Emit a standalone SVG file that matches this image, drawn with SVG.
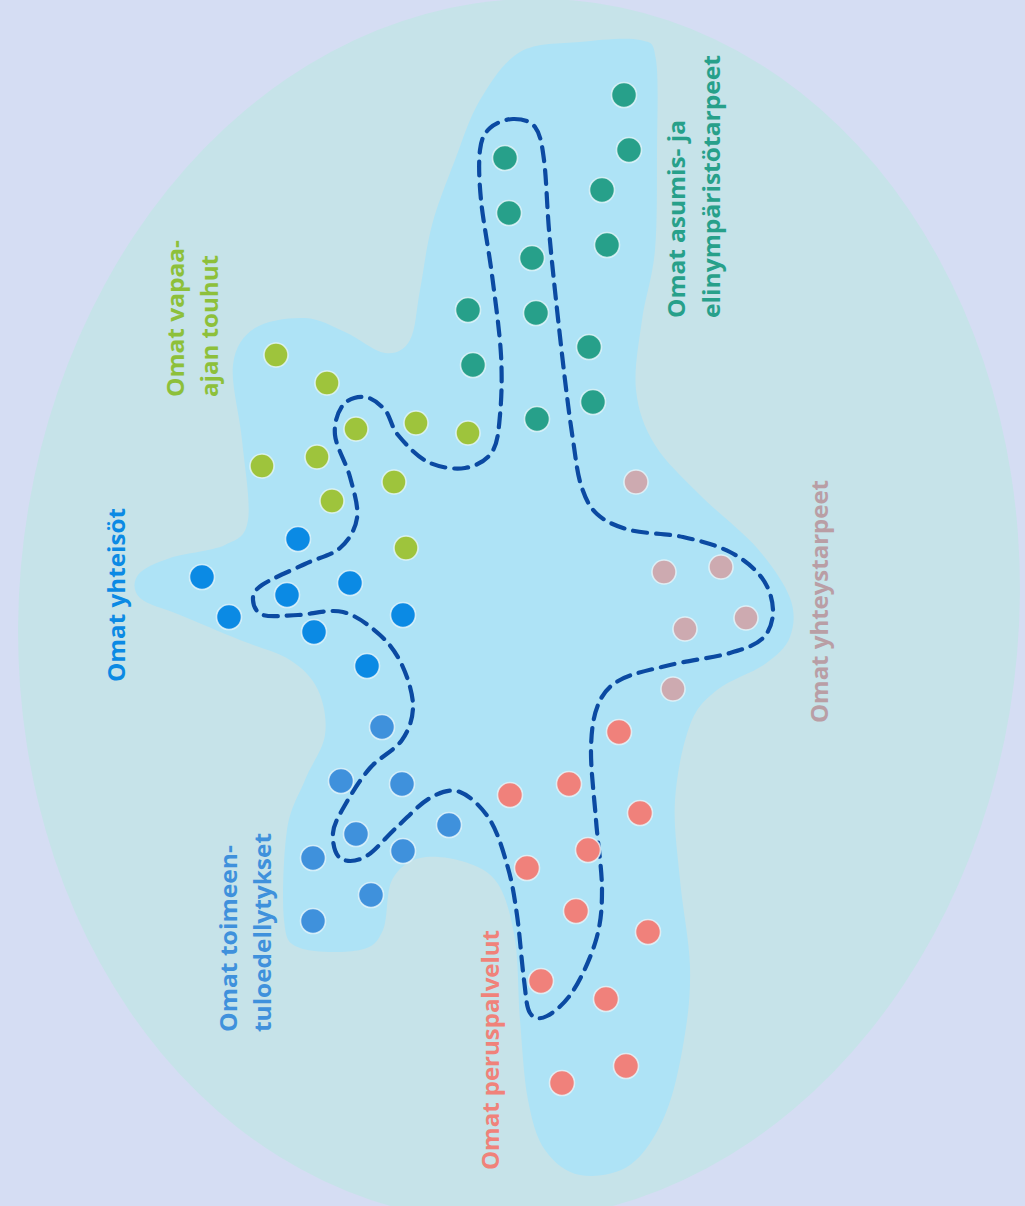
<svg xmlns="http://www.w3.org/2000/svg" width="1025" height="1206" viewBox="0 0 1025 1206">
<style>
.lbl{font-family:"Open Sans","Liberation Sans",sans-serif;font-size:24px;font-weight:700}
.dot{stroke:#e6f6fb;stroke-width:1.6;stroke-opacity:0.8}
.teal{fill:#27a08a}.green{fill:#9ec43c}.blue{fill:#0b8ae4}.mid{fill:#3f91dc}.red{fill:#f0817b}.pink{fill:#cdaab0}
</style>
<rect id="background" x="0" y="0" width="1025" height="1206" fill="#d5ddf3"/>
<ellipse id="outer-ellipse" cx="519" cy="610" rx="500" ry="612" transform="rotate(5 519 610)" fill="#c6e3e9"/>
<path id="blob" fill="#aee3f6" d="M520,52 C536.7,42.3 560,44 580,42 S627.3,37 640,40 S653.2,41.7 656,60 S657.2,118.3 657,150 S657.5,221.7 655,250 S645.2,296.7 642,320 S633.8,369.2 636,390 S644.3,427.5 655,445 S683,477.8 700,495 S742,530.8 757,548 S784.5,583.2 790,598 S794.2,626 790,637 S777.2,655.2 765,664 S729.5,679.8 717,690 S697,706.7 690,725 S676.7,774.2 675,800 S677.5,852.2 680,880 S689.3,940.3 690,967 S688.2,1015.3 684,1040 S674,1094.2 665,1115 S644.2,1155 630,1165 S594.2,1177.5 580,1175 S553.7,1162.5 545,1150 S532.2,1121.7 528,1100 S522.2,1046.7 520,1020 S518.7,962.7 515,940 S506.3,897 498,884 S478,866.3 465,862 S432.2,855 420,858 S398.2,868 392,880 S388.3,918.3 383,930 S373.8,947 360,950 S312.7,953 300,948 S286.2,939.7 284,920 S283.5,853.3 287,830 S298.7,795.8 305,780 S322.8,750 325,735 S323.8,702.5 318,690 S303,668.3 290,660 S258.3,647.5 240,640 S196.7,622 180,615 S147,604.7 140,598 S133,581.7 138,575 S155.5,563 170,558 S212,551.3 225,545 S245.2,537.5 248,520 S244.5,465.8 242,440 S230.8,383.7 233,365 S243,335.8 255,328 S290,317.3 305,318 S331.7,326.2 345,332 S374.2,351.7 385,353 S404.2,350.5 410,340 S416.3,309.2 420,290 S426.2,246.7 432,225 S447,180.8 455,160 S469.2,118 480,100 S503.3,61.7 520,52 Z"/>
<g id="connectors">
<path id="dashed-boundary" fill="none" stroke="#0b4aa2" stroke-width="4.2" stroke-dasharray="14 9" stroke-linecap="round" d="M513,119 C520.5,118.8 529.8,120.2 535,127 S541.7,142.8 544,160 S547,206.7 549,230 S553.3,275 556,300 S562.2,356.7 565,380 S570.3,422.5 573,440 S577,472.7 581,485 S588.8,506.5 597,514 S615.7,526.2 630,530 S666.3,533.3 683,537 S716.8,545.2 730,552 S754.8,568.3 762,578 S772.8,600 773,610 S770.2,630.8 763,638 S745.5,648.5 730,653 S688.3,660.5 670,665 S632,673.3 620,680 S602.8,693.3 598,705 S591.3,730.8 591,750 S594.2,796.7 596,820 S602,870 602,890 S600.8,923.2 596,940 S581.2,978.3 573,991 S554.2,1012.3 547,1016 S533.8,1019 530,1013 S526.2,996.3 524,980 S519.7,933.7 517,915 S512.5,883.8 508,868 S498,832.7 490,820 S470,795.7 460,792 S440.5,792.2 430,798 S407.8,817.2 397,827 S374.5,851.8 365,857 S345.3,862 340,858 S332.2,841.8 333,833 S338.8,815.8 345,805 S360.5,778.8 370,768 S394.8,750.3 402,740 S413,718.5 413,706 S407.5,676.8 402,665 S389.8,643.8 380,635 S356.7,615.3 343,612 S311.3,614.5 298,615 S270.5,617.5 263,615 S253.2,605 253,600 S253.3,591 262,585 S292,570.2 305,564 S331.3,555.7 340,548 S355.3,529.8 357,518 S353.7,490.8 350,477 S336.2,447 335,435 S338,411.3 343,405 S358,396.2 365,397 S379.5,403.7 385,410 S390.8,426.3 398,435 S416.8,456.5 428,462 S454.3,469.7 465,468 S486.2,460.8 492,452 S498.5,431.2 500,415 S502.3,378.3 501,355 S495.3,300.8 492,275 S483,220.8 481,200 S478.5,162 480,150 S484.5,133.2 490,128 S505.5,119.2 513,119 Z"/>
</g>
<g id="asumis">
<circle class="dot teal" cx="624" cy="95" r="12.5"/>
<circle class="dot teal" cx="629" cy="150" r="12.5"/>
<circle class="dot teal" cx="602" cy="190" r="12.5"/>
<circle class="dot teal" cx="607" cy="245" r="12.5"/>
<circle class="dot teal" cx="505" cy="158" r="12.5"/>
<circle class="dot teal" cx="509" cy="213" r="12.5"/>
<circle class="dot teal" cx="532" cy="258" r="12.5"/>
<circle class="dot teal" cx="536" cy="313" r="12.5"/>
<circle class="dot teal" cx="468" cy="310" r="12.5"/>
<circle class="dot teal" cx="473" cy="365" r="12.5"/>
<circle class="dot teal" cx="537" cy="419" r="12.5"/>
<circle class="dot teal" cx="589" cy="347" r="12.5"/>
<circle class="dot teal" cx="593" cy="402" r="12.5"/>
<text class="lbl" fill="#27a08a" transform="translate(685,318) rotate(-90)" textLength="198" lengthAdjust="spacingAndGlyphs">Omat asumis- ja</text>
<text class="lbl" fill="#27a08a" transform="translate(720,318) rotate(-90)" textLength="263" lengthAdjust="spacingAndGlyphs">elinympäristötarpeet</text>
</g>
<g id="vapaa-aika">
<circle class="dot green" cx="276" cy="355" r="12"/>
<circle class="dot green" cx="327" cy="383" r="12"/>
<circle class="dot green" cx="356" cy="429" r="12"/>
<circle class="dot green" cx="416" cy="423" r="12"/>
<circle class="dot green" cx="468" cy="433" r="12"/>
<circle class="dot green" cx="262" cy="466" r="12"/>
<circle class="dot green" cx="317" cy="457" r="12"/>
<circle class="dot green" cx="332" cy="501" r="12"/>
<circle class="dot green" cx="394" cy="482" r="12"/>
<circle class="dot green" cx="406" cy="548" r="12"/>
<text class="lbl" fill="#8dc03a" transform="translate(184,397) rotate(-90)" textLength="157" lengthAdjust="spacingAndGlyphs">Omat vapaa-</text>
<text class="lbl" fill="#8dc03a" transform="translate(218,397) rotate(-90)" textLength="142" lengthAdjust="spacingAndGlyphs">ajan touhut</text>
</g>
<g id="yhteisot">
<circle class="dot blue" cx="298" cy="539" r="12.5"/>
<circle class="dot blue" cx="202" cy="577" r="12.5"/>
<circle class="dot blue" cx="229" cy="617" r="12.5"/>
<circle class="dot blue" cx="287" cy="595" r="12.5"/>
<circle class="dot blue" cx="350" cy="583" r="12.5"/>
<circle class="dot blue" cx="403" cy="615" r="12.5"/>
<circle class="dot blue" cx="314" cy="632" r="12.5"/>
<circle class="dot blue" cx="367" cy="666" r="12.5"/>
<text class="lbl" fill="#0b8ae4" transform="translate(125,682) rotate(-90)" textLength="174" lengthAdjust="spacingAndGlyphs">Omat yhteisöt</text>
</g>
<g id="toimeentulo">
<circle class="dot mid" cx="382" cy="727" r="12.5"/>
<circle class="dot mid" cx="341" cy="781" r="12.5"/>
<circle class="dot mid" cx="402" cy="784" r="12.5"/>
<circle class="dot mid" cx="449" cy="825" r="12.5"/>
<circle class="dot mid" cx="356" cy="834" r="12.5"/>
<circle class="dot mid" cx="313" cy="858" r="12.5"/>
<circle class="dot mid" cx="403" cy="851" r="12.5"/>
<circle class="dot mid" cx="371" cy="895" r="12.5"/>
<circle class="dot mid" cx="313" cy="921" r="12.5"/>
<text class="lbl" fill="#3f91dc" transform="translate(237,1032) rotate(-90)" textLength="187" lengthAdjust="spacingAndGlyphs">Omat toimeen-</text>
<text class="lbl" fill="#3f91dc" transform="translate(271,1032) rotate(-90)" textLength="199" lengthAdjust="spacingAndGlyphs">tuloedellytykset</text>
</g>
<g id="peruspalvelut">
<circle class="dot red" cx="510" cy="795" r="12.5"/>
<circle class="dot red" cx="569" cy="784" r="12.5"/>
<circle class="dot red" cx="619" cy="732" r="12.5"/>
<circle class="dot red" cx="640" cy="813" r="12.5"/>
<circle class="dot red" cx="588" cy="850" r="12.5"/>
<circle class="dot red" cx="527" cy="868" r="12.5"/>
<circle class="dot red" cx="576" cy="911" r="12.5"/>
<circle class="dot red" cx="648" cy="932" r="12.5"/>
<circle class="dot red" cx="541" cy="981" r="12.5"/>
<circle class="dot red" cx="606" cy="999" r="12.5"/>
<circle class="dot red" cx="562" cy="1083" r="12.5"/>
<circle class="dot red" cx="626" cy="1066" r="12.5"/>
<text class="lbl" fill="#f0827a" transform="translate(499,1170) rotate(-90)" textLength="240" lengthAdjust="spacingAndGlyphs">Omat peruspalvelut</text>
</g>
<g id="yhteystarpeet">
<circle class="dot pink" cx="636" cy="482" r="12"/>
<circle class="dot pink" cx="664" cy="572" r="12"/>
<circle class="dot pink" cx="721" cy="567" r="12"/>
<circle class="dot pink" cx="746" cy="618" r="12"/>
<circle class="dot pink" cx="685" cy="629" r="12"/>
<circle class="dot pink" cx="673" cy="689" r="12"/>
<text class="lbl" fill="#b99ea5" transform="translate(828,723) rotate(-90)" textLength="243" lengthAdjust="spacingAndGlyphs">Omat yhteystarpeet</text>
</g>
</svg>
